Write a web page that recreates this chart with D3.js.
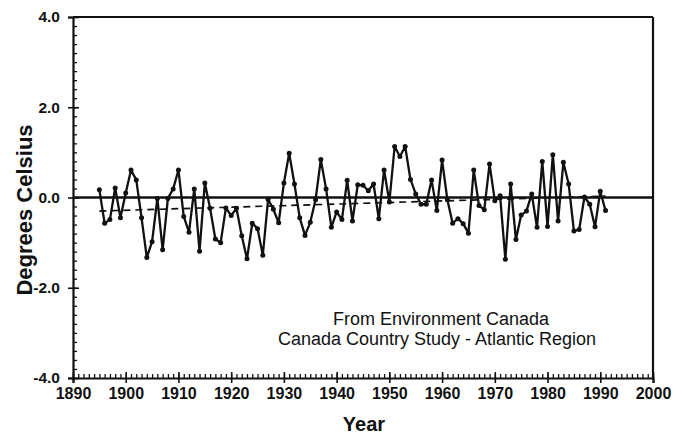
<!DOCTYPE html>
<html>
<head>
<meta charset="utf-8">
<script src="https://cdn.jsdelivr.net/npm/d3@7"></script>
<style>
  html, body { margin: 0; padding: 0; background: #fff; }
  svg { display: block; }
  text { font-family: "Liberation Sans", Arial, Helvetica, sans-serif; fill: #111; }
</style>
</head>
<body>
<svg id="chart" width="684" height="435"></svg>
<script>
const years = d3.range(1895, 1992);
const anomalies = [
  0.17, -0.57, -0.49, 0.21, -0.45, 0.10, 0.61, 0.39, -0.45, -1.33,
  -0.98, -0.02, -1.16, -0.02, 0.19, 0.61, -0.42, -0.77, 0.19, -1.19,
  0.32, -0.24, -0.92, -1.00, -0.23, -0.40, -0.24, -0.85, -1.36, -0.57,
  -0.69, -1.28, -0.04, -0.26, -0.56, 0.32, 0.98, 0.30, -0.45, -0.84,
  -0.55, -0.05, 0.84, 0.19, -0.66, -0.32, -0.49, 0.38, -0.52, 0.28,
  0.27, 0.15, 0.30, -0.47, 0.61, -0.10, 1.13, 0.91, 1.13, 0.40,
  0.08, -0.15, -0.15, 0.39, -0.29, 0.83, -0.05, -0.57, -0.47, -0.58,
  -0.79, 0.61, -0.18, -0.27, 0.74, -0.07, 0.04, -1.37, 0.30, -0.93,
  -0.39, -0.30, 0.08, -0.66, 0.80, -0.64, 0.95, -0.52, 0.78, 0.30,
  -0.74, -0.71, 0.01, -0.15, -0.65, 0.14, -0.29
];
const trendYears = [1895, 1991];
const trendValues = [-0.30, 0.03];
const xTickYears = [1890, 1900, 1910, 1920, 1930, 1940, 1950, 1960, 1970, 1980, 1990, 2000];
const yTickValues = [-4, -2, 0, 2, 4];
const yTickLabels = ["-4.0", "-2.0", "0.0", "2.0", "4.0"];
const annotationLines = ["From Environment Canada", "Canada Country Study - Atlantic Region"];

const svg = d3.select("#chart");
const ink = "#111";
const x = d3.scaleLinear().domain([1890, 2000]).range([73, 653]);
const y = d3.scaleLinear().domain([-4, 4]).range([378, 17]);

// frame
svg.append("line").attr("x1", x(1890)).attr("x2", x(2000)).attr("y1", y(4)).attr("y2", y(4))
  .attr("stroke", ink).attr("stroke-width", 2.2);
svg.append("line").attr("x1", x(2000)).attr("x2", x(2000)).attr("y1", y(4)).attr("y2", y(-4))
  .attr("stroke", ink).attr("stroke-width", 2.2);

// x axis: minor ticks upward every year, major ticks crossing every 10
const xAxisMinor = d3.axisBottom(x).tickValues(d3.range(1890, 2001)).tickSize(-4).tickFormat("");
const gxm = svg.append("g").attr("transform", `translate(0,${y(-4)})`).call(xAxisMinor);
gxm.select(".domain").remove();
gxm.selectAll(".tick line").attr("stroke", ink).attr("stroke-width", 1.3);

const xAxisMajor = d3.axisBottom(x).tickValues(xTickYears).tickSize(5).tickPadding(4).tickFormat(d3.format("d"));
const gx = svg.append("g").attr("transform", `translate(0,${y(-4)})`).call(xAxisMajor);
gx.select(".domain").attr("stroke", ink).attr("stroke-width", 2.2);
gx.selectAll(".tick line").attr("stroke", ink).attr("stroke-width", 1.6).attr("y1", -6);
gx.selectAll(".tick text").attr("font-size", 16).attr("font-weight", "bold")
  .attr("fill", ink).attr("dy", "0.72em");

// y axis: minor ticks inward every 0.2, major crossing every 2
const yAxisMinor = d3.axisRight(y).tickValues(d3.range(-40, 41, 2).map(v => v / 10)).tickSize(4).tickFormat("");
const gym = svg.append("g").attr("transform", `translate(${x(1890)},0)`).call(yAxisMinor);
gym.select(".domain").remove();
gym.selectAll(".tick line").attr("stroke", ink).attr("stroke-width", 1.3);

const yAxisMajor = d3.axisLeft(y).tickValues(yTickValues).tickSize(5).tickPadding(8)
  .tickFormat((d, i) => yTickLabels[i]);
const gy = svg.append("g").attr("transform", `translate(${x(1890)},0)`).call(yAxisMajor);
gy.select(".domain").attr("stroke", ink).attr("stroke-width", 2.2);
gy.selectAll(".tick line").attr("stroke", ink).attr("stroke-width", 1.6).attr("x2", 6).attr("x1", -5);
gy.selectAll(".tick text").attr("font-size", 15.5).attr("font-weight", "bold").attr("fill", ink);

// zero line
svg.append("line").attr("x1", x(1890)).attr("x2", x(2000)).attr("y1", y(0)).attr("y2", y(0))
  .attr("stroke", ink).attr("stroke-width", 2.3);

// trend (dashed)
const trend = trendYears.map((yr, i) => [yr, trendValues[i]]);
svg.append("path").datum(trend)
  .attr("d", d3.line().x(d => x(d[0])).y(d => y(d[1])))
  .attr("fill", "none").attr("stroke", ink).attr("stroke-width", 1.7)
  .attr("stroke-dasharray", "7,5");

// data line
const data = years.map((yr, i) => ({ year: yr, value: anomalies[i] }));
svg.append("path").datum(data)
  .attr("d", d3.line().x(d => x(d.year)).y(d => y(d.value)))
  .attr("fill", "none").attr("stroke", ink).attr("stroke-width", 2.3).attr("stroke-linejoin", "round");
svg.append("g").selectAll("circle").data(data).join("circle")
  .attr("cx", d => x(d.year)).attr("cy", d => y(d.value)).attr("r", 2.5).attr("fill", ink);

// axis titles
svg.append("text").attr("x", 364).attr("y", 431)
  .attr("text-anchor", "middle").attr("font-size", 20).attr("font-weight", "bold").text("Year");
svg.append("text").attr("transform", "translate(32,210) rotate(-90)")
  .attr("text-anchor", "middle").attr("font-size", 22).attr("font-weight", "bold").text("Degrees Celsius");

// annotation
svg.append("text").attr("x", 441).attr("y", 325).attr("text-anchor", "middle")
  .attr("font-size", 18).text(annotationLines[0]);
svg.append("text").attr("x", 437).attr("y", 345).attr("text-anchor", "middle")
  .attr("font-size", 18).text(annotationLines[1]);
</script>
</body>
</html>
